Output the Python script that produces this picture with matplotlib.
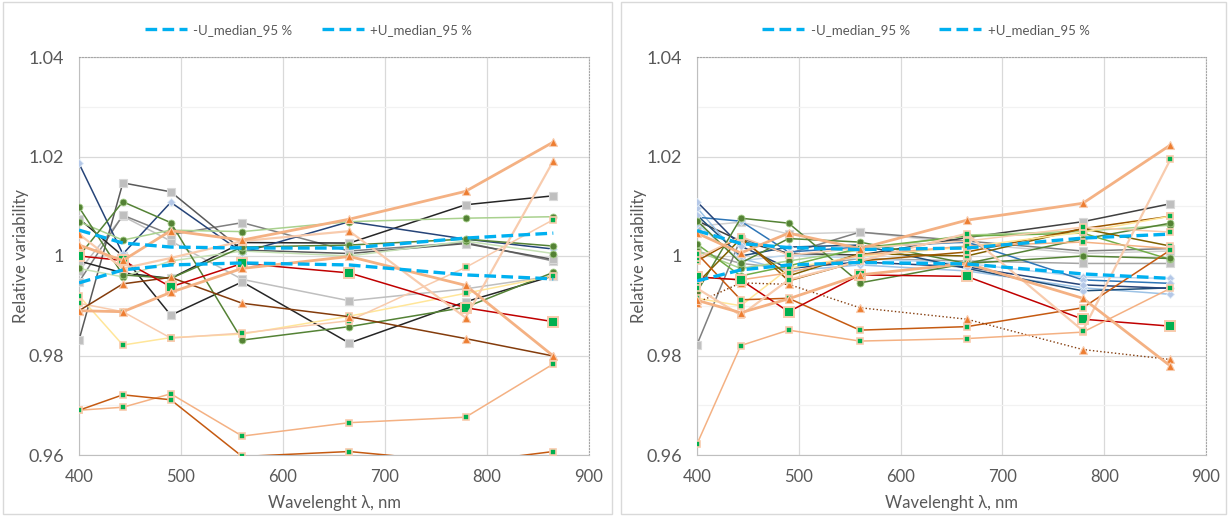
import matplotlib
matplotlib.use("Agg")
import matplotlib.pyplot as plt
from matplotlib.patches import Rectangle
from matplotlib.ticker import MultipleLocator, FuncFormatter

plt.rcParams['font.family'] = ['Lato', 'DejaVu Sans']

# band centres, nm
wavelength = [400, 443, 490, 560, 665, 779, 865]

# ---- left chart ----
left_u_minus = [0.9946, 0.9972, 0.9982, 0.9986, 0.9982, 0.9962, 0.9954]
left_u_plus = [1.0052, 1.0026, 1.0018, 1.0016, 1.0016, 1.0036, 1.0046]

left_navy = [1.0186, 1.0004, 1.0108, 1.0007, 1.0069, 1.0034, 1.0014]
left_gray_dark = [0.9831, 1.0147, 1.0129, 1.0012, 1.0005, 1.0025, 0.9993]
left_gray_mid = [0.9948, 1.0082, 1.0043, 1.0067, 1.0010, 1.0027, 0.9990]
left_gray_light = [0.9970, 1.0080, 1.0030, 0.9953, 0.9910, 0.9934, 0.9960]
left_black_a = [1.0075, 1.0000, 0.9881, 0.9948, 0.9825, 0.9908, 0.9960]
left_black_b = [0.9990, 0.9966, 0.9955, 1.0027, 1.0026, 1.0103, 1.0121]
left_green_a = [1.0000, 1.0109, 1.0067, 0.9831, 0.9858, 0.9897, 0.9967]
left_green_b = [1.0098, 0.9962, 0.9955, 1.0018, 1.0022, 1.0034, 1.0020]
left_lgreen_a = [1.0069, 1.0032, 1.0052, 1.0049, 1.0069, 1.0076, 1.0079]
left_lgreen_b = [0.9975, 0.9958, 0.9990, 1.0010, 1.0000, 1.0030, 1.0005]
left_red = [1.0000, 0.9991, 0.9938, 0.9985, 0.9966, 0.9896, 0.9868]
left_brown = [0.9890, 0.9944, 0.9957, 0.9905, 0.9878, 0.9834, 0.9799]
left_orange_a = [1.0022, 0.9991, 1.0051, 1.0032, 1.0074, 1.0130, 1.0229]
left_orange_b = [0.9890, 0.9888, 0.9927, 0.9975, 0.9999, 0.9941, 0.9799]
left_orange_c = [1.0044, 0.9975, 0.9996, 1.0030, 1.0050, 0.9876, 1.0191]
left_peach_a = [0.9690, 0.9696, 0.9723, 0.9638, 0.9665, 0.9676, 0.9783]
left_rust = [0.9690, 0.9721, 0.9711, 0.9597, 0.9607, 0.9585, 0.9607]
left_peach_b = [0.9905, 0.9888, 0.9835, 0.9845, 0.9870, 0.9977, 1.0073]
left_cream = [0.9920, 0.9821, 0.9836, 0.9843, 0.9879, 0.9925, 0.9960]

# ---- right chart ----
right_u_minus = [0.9950, 0.9972, 0.9982, 0.9987, 0.9984, 0.9964, 0.9955]
right_u_plus = [1.0051, 1.0025, 1.0017, 1.0013, 1.0016, 1.0036, 1.0044]

right_blue_1 = [1.0109, 1.0020, 0.9975, 0.9988, 0.9978, 0.9942, 0.9935]
right_blue_2 = [1.0078, 1.0070, 1.0008, 1.0018, 1.0028, 0.9952, 0.9945]
right_blue_3 = [1.0097, 0.9995, 0.9970, 0.9982, 0.9970, 0.9936, 0.9923]
right_blue_4 = [1.0082, 1.0000, 1.0018, 1.0022, 0.9975, 0.9930, 0.9936]
right_blue_5 = [1.0065, 0.9990, 1.0002, 0.9995, 0.9985, 0.9958, 0.9955]
right_black = [1.0071, 1.0030, 1.0005, 1.0002, 1.0037, 1.0069, 1.0105]
right_gray_dark = [0.9822, 1.0035, 1.0005, 1.0048, 1.0030, 1.0010, 1.0015]
right_gray_light = [1.0060, 1.0068, 1.0044, 1.0048, 1.0025, 1.0005, 1.0010]
right_gray_mid = [1.0010, 0.9985, 0.9975, 0.9995, 0.9990, 0.9985, 0.9985]
right_green_1 = [0.9928, 1.0076, 1.0066, 0.9946, 0.9985, 1.0000, 0.9995]
right_green_2 = [1.0071, 0.9986, 1.0035, 1.0028, 0.9985, 1.0034, 1.0066]
right_green_3 = [1.0024, 0.9960, 0.9980, 1.0016, 1.0040, 1.0046, 0.9993]
right_lgreen = [1.0010, 0.9975, 0.9990, 1.0012, 1.0042, 1.0050, 1.0062]
right_olive = [0.9945, 1.0035, 0.9960, 1.0005, 1.0000, 1.0055, 1.0020]
right_brown = [0.9990, 1.0039, 0.9950, 0.9990, 1.0008, 1.0055, 1.0080]
right_cream = [0.9915, 0.9900, 0.9975, 1.0000, 1.0018, 1.0048, 1.0080]
right_peach_1 = [0.9996, 1.0039, 1.0002, 1.0016, 1.0030, 1.0058, 1.0048]
right_peach_2 = [0.9958, 0.9952, 0.9966, 1.0002, 1.0020, 1.0028, 1.0015]
right_red = [0.9958, 0.9952, 0.9888, 0.9962, 0.9959, 0.9873, 0.9859]
right_rust = [1.0005, 0.9912, 0.9915, 0.9851, 0.9858, 0.9896, 1.0012]
right_brown_dotted = [0.9906, 0.9946, 0.9943, 0.9896, 0.9873, 0.9812, 0.9792]
right_peach_low = [0.9622, 0.9820, 0.9851, 0.9829, 0.9834, 0.9847, 0.9935]
right_peach_steep = [0.9935, 0.9881, 0.9952, 0.9990, 1.0045, 0.9850, 1.0194]
right_orange_a = [1.0046, 1.0006, 1.0046, 1.0015, 1.0072, 1.0106, 1.0223]
right_orange_b = [0.9911, 0.9886, 0.9914, 0.9962, 0.9985, 0.9915, 0.9779]

# marker styles
SQ = dict(marker='s', ms=4.5, mfc='#00B050', mec='#F8CBAD', mew=1.2)
SQ_BIG = dict(marker='s', ms=6.5, mfc='#00B050', mec='#F8CBAD', mew=1.4)
SQ_GRAY = dict(marker='s', ms=5.5, mfc='#BFBFBF', mec='#D9D9D9', mew=0.8)
CIRC = dict(marker='o', ms=5, mfc='#548235', mec='#A9D18E', mew=0.6)
TRI = dict(marker='^', ms=6, mfc='#ED7D31', mec='#F8CBAD', mew=0.8)
DIAM = dict(marker='D', ms=4.5, mfc='#B4C7E7', mec='#DEEBF7', mew=0.6)


def line(color, lw=1.1, ls='-'):
    return dict(color=color, lw=lw, ls=ls)


left_series = [
    (left_gray_light, line('#BFBFBF'), SQ_GRAY),
    (left_gray_mid, line('#7F7F7F'), SQ_GRAY),
    (left_gray_dark, line('#595959'), SQ_GRAY),
    (left_black_a, line('#262626'), SQ_GRAY),
    (left_black_b, line('#262626'), SQ_GRAY),
    (left_navy, line('#264478'), DIAM),
    (left_lgreen_a, line('#A9D18E'), CIRC),
    (left_lgreen_b, line('#C5E0B4'), CIRC),
    (left_green_a, line('#548235'), CIRC),
    (left_green_b, line('#548235'), CIRC),
    (left_cream, line('#FFE699'), SQ),
    (left_peach_b, line('#F8CBAD'), SQ),
    (left_peach_a, line('#F4B183'), SQ),
    (left_rust, line('#C55A11'), SQ),
    (left_brown, line('#843C0C'), TRI),
    (left_red, line('#C00000'), SQ_BIG),
    (left_orange_c, line('#F8CBAD', 1.6), TRI),
    (left_orange_b, line('#F4B183', 2.0), TRI),
    (left_orange_a, line('#F4B183', 2.0), TRI),
]

right_series = [
    (right_gray_mid, line('#A5A5A5'), SQ_GRAY),
    (right_gray_light, line('#D0D0D0'), SQ_GRAY),
    (right_gray_dark, line('#7F7F7F'), SQ_GRAY),
    (right_black, line('#404040'), SQ_GRAY),
    (right_blue_5, line('#BDD7EE'), DIAM),
    (right_blue_3, line('#9DC3E6'), DIAM),
    (right_blue_2, line('#2E75B6'), DIAM),
    (right_blue_4, line('#1F4E79'), DIAM),
    (right_blue_1, line('#264478'), DIAM),
    (right_lgreen, line('#A9D18E'), CIRC),
    (right_green_3, line('#70AD47'), CIRC),
    (right_green_2, line('#548235'), CIRC),
    (right_green_1, line('#548235'), CIRC),
    (right_olive, line('#7F6000'), SQ),
    (right_brown, line('#9C5700'), SQ),
    (right_cream, line('#FFE699'), SQ),
    (right_peach_1, line('#F8CBAD'), SQ),
    (right_peach_2, line('#F4B183'), SQ),
    (right_rust, line('#C55A11'), SQ),
    (right_brown_dotted, line('#843C0C', 1.0, ':'), TRI),
    (right_red, line('#C00000'), SQ_BIG),
    (right_peach_low, line('#F4B183'), SQ),
    (right_peach_steep, line('#F8CBAD', 1.6), SQ),
    (right_orange_b, line('#F4B183', 2.0), TRI),
    (right_orange_a, line('#F4B183', 2.0), TRI),
]

W, H = 1229, 521
fig = plt.figure(figsize=(W / 100, H / 100), dpi=100)

# chart area frames
for x0, x1 in [(3, 612), (621, 1226)]:
    fig.add_artist(Rectangle((x0 / W, 7 / H), (x1 - x0) / W, 512 / H,
                             transform=fig.transFigure, fill=False,
                             edgecolor='#D9D9D9', lw=1))

TXT = '#595959'
DASH = dict(color='#00B0F0', lw=2.4, dashes=(3.5, 1.6), solid_capstyle='butt',
            dash_capstyle='butt')


def fmt(v, _):
    s = f"{v:.2f}"
    return "1" if s == "1.00" else s


def draw(rect, series, u_minus, u_plus):
    ax = fig.add_axes(rect)
    for vals, ls, mk in series:
        ax.plot(wavelength, vals, **ls, **mk, zorder=3)
    h1, = ax.plot(wavelength, u_minus, **DASH, zorder=5, label='-U_median_95 %')
    h2, = ax.plot(wavelength, u_plus, **DASH, zorder=5, label='+U_median_95 %')

    ax.set_xlim(400, 900)
    ax.set_ylim(0.96, 1.04)
    ax.xaxis.set_major_locator(MultipleLocator(100))
    ax.yaxis.set_major_locator(MultipleLocator(0.02))
    ax.yaxis.set_minor_locator(MultipleLocator(0.01))
    ax.yaxis.set_major_formatter(FuncFormatter(fmt))
    ax.grid(which='major', color='#D9D9D9', lw=0.9)
    ax.grid(which='minor', axis='y', color='#F2F2F2', lw=0.9)
    ax.set_axisbelow(True)
    ax.tick_params(which='both', length=0, colors=TXT)
    ax.tick_params(axis='y', labelsize=13, pad=11)
    ax.tick_params(axis='x', labelsize=12, pad=10)
    for side in ('left', 'bottom'):
        ax.spines[side].set_color('#BFBFBF')
    for side in ('top', 'right'):
        ax.spines[side].set_color('#A6A6A6')
        ax.spines[side].set_linestyle(':')
        ax.spines[side].set_linewidth(0.8)

    ax.set_xlabel('Wavelenght λ, nm', fontsize=12, color=TXT, labelpad=7)
    ax.set_ylabel('Relative variability', fontsize=12, color=TXT)
    ax.yaxis.set_label_coords(-0.098, 0.5)

    leg = ax.legend(handles=[h1, h2], loc='center', bbox_to_anchor=(0.45, 1.068),
                    ncol=2, frameon=False, fontsize=9.5, handlelength=3.2,
                    handletextpad=0.5, columnspacing=2.2)
    for t in leg.get_texts():
        t.set_color(TXT)
    return ax


bottom = (H - 455) / H
height = 398 / H
draw([79 / W, bottom, 510 / W, height], left_series, left_u_minus, left_u_plus)
draw([697 / W, bottom, 509 / W, height], right_series, right_u_minus, right_u_plus)

fig.savefig('out.png', dpi=100)
